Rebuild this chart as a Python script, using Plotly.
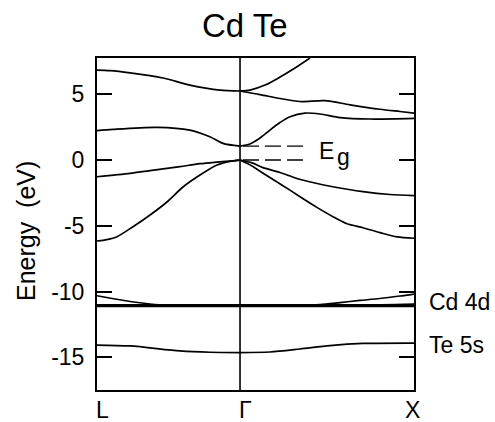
import plotly.graph_objects as go

# High-symmetry points along the k-path (L -> Gamma -> X)
K_L, K_G, K_X = 0.0, 0.822, 1.822
kpoint_labels = ["L", "Γ", "X"]

# ---- L - Gamma segment (k, energy in eV) ----
k_lg_c2 = [0, 0.075, 0.190, 0.379, 0.534, 0.707, 0.822]
e_lg_c2 = [6.84, 6.80, 6.63, 6.24, 5.70, 5.32, 5.25]

k_lg_c1 = [0, 0.092, 0.345, 0.534, 0.649, 0.724, 0.822]
e_lg_c1 = [2.23, 2.33, 2.49, 2.28, 1.77, 1.27, 1.06]

k_lg_hh = [0, 0.190, 0.305, 0.477, 0.592, 0.822]
e_lg_hh = [-1.27, -1.02, -0.80, -0.50, -0.28, 0.0]

k_lg_lh = [0, 0.057, 0.115, 0.207, 0.305, 0.402, 0.494, 0.592, 0.690, 0.764, 0.822]
e_lg_lh = [-6.16, -6.05, -5.83, -5.07, -4.18, -3.19, -2.05, -1.14, -0.38, -0.10, 0.0]

k_lg_d = [0, 0.103, 0.190, 0.305, 0.391, 0.534, 0.822]
e_lg_d = [-10.32, -10.57, -10.76, -10.95, -11.05, -11.08, -11.08]

k_lg_s = [0, 0.190, 0.477, 0.649, 0.822]
e_lg_s = [-14.07, -14.14, -14.52, -14.62, -14.64]

# ---- Gamma - X segment ----
k_gx_c3 = [0.822, 0.879, 0.966, 1.052, 1.138, 1.224]
e_gx_c3 = [5.25, 5.32, 5.70, 6.31, 7.00, 7.76]

k_gx_c2 = [0.822, 0.937, 1.052, 1.167, 1.310, 1.454, 1.626, 1.741, 1.822]
e_gx_c2 = [5.25, 4.98, 4.68, 4.45, 4.52, 4.20, 3.86, 3.69, 3.57]

k_gx_c1 = [0.822, 0.879, 0.937, 0.994, 1.052, 1.109, 1.195, 1.282, 1.397, 1.569, 1.822]
e_gx_c1 = [1.06, 1.22, 1.67, 2.28, 2.85, 3.29, 3.57, 3.50, 3.23, 3.12, 3.17]

k_gx_hh = [0.822, 0.891, 0.954, 1.052, 1.149, 1.253, 1.356, 1.529, 1.684, 1.822]
e_gx_hh = [0.0, -0.22, -0.58, -0.95, -1.40, -1.75, -2.03, -2.40, -2.62, -2.71]

k_gx_lh = [0.822, 0.891, 0.966, 1.069, 1.167, 1.264, 1.356, 1.437, 1.529, 1.626, 1.724, 1.822]
e_gx_lh = [0.0, -0.45, -1.10, -1.95, -2.79, -3.60, -4.31, -4.85, -5.15, -5.52, -5.85, -5.95]

k_gx_d1 = [0.822, 1.167, 1.282, 1.397, 1.511, 1.626, 1.741, 1.822]
e_gx_d1 = [-11.08, -11.06, -10.99, -10.84, -10.68, -10.53, -10.34, -10.19]

k_gx_d2 = [1.397, 1.569, 1.713, 1.822]
e_gx_d2 = [-11.08, -11.04, -10.99, -10.95]

k_gx_s = [0.822, 0.994, 1.167, 1.339, 1.529, 1.822]
e_gx_s = [-14.64, -14.60, -14.37, -14.11, -13.95, -13.92]

# Flat, nearly degenerate Cd 4d manifold
k_d_flat = [K_L, K_X]
e_d_flat = [-11.08, -11.08]

# Band gap at Gamma: conduction-band minimum and valence-band maximum
e_cbm = e_gx_c1[0]
e_vbm = e_gx_hh[0]

y_ticks = [5, 0, -5, -10, -15]
y_ticktext = ["5", "0", "-5", "-10", "-15"]

FONT = "Liberation Sans, Arial, sans-serif"
fig = go.Figure()

bands = [
    (k_lg_c2, e_lg_c2), (k_lg_c1, e_lg_c1), (k_lg_hh, e_lg_hh), (k_lg_lh, e_lg_lh),
    (k_lg_d, e_lg_d), (k_lg_s, e_lg_s),
    (k_gx_c3, e_gx_c3), (k_gx_c2, e_gx_c2), (k_gx_c1, e_gx_c1), (k_gx_hh, e_gx_hh),
    (k_gx_lh, e_gx_lh), (k_gx_d1, e_gx_d1), (k_gx_d2, e_gx_d2), (k_gx_s, e_gx_s),
]
for kk, ee in bands:
    fig.add_trace(go.Scatter(x=kk, y=ee, mode="lines",
                             line=dict(color="black", width=1.7, shape="spline", smoothing=0.8),
                             hoverinfo="skip", showlegend=False))

fig.add_trace(go.Scatter(x=k_d_flat, y=e_d_flat, mode="lines",
                         line=dict(color="black", width=3.2),
                         hoverinfo="skip", showlegend=False))

# Dashed guides marking the gap
for e in (e_cbm, e_vbm):
    fig.add_trace(go.Scatter(x=[K_G + 0.017, K_G + 0.374], y=[e, e], mode="lines",
                             line=dict(color="black", width=1.4, dash="16px,6px"),
                             hoverinfo="skip", showlegend=False))

# Vertical line at Gamma
fig.add_shape(type="line", xref="x", yref="y domain", x0=K_G, x1=K_G, y0=0, y1=1,
              line=dict(color="black", width=1.6))

e_mid = (e_cbm + e_vbm) / 2
annotations = [
    dict(text="Cd Te", x=0.467, y=1.0, xref="paper", yref="paper", yshift=12,
         xanchor="center", yanchor="bottom", showarrow=False,
         font=dict(size=33, family=FONT, color="black")),
    dict(text="Energy  (eV)", x=(26 - 97) / 317, y=(390 - 231) / 332,
         xref="paper", yref="paper",
         textangle=-90, xanchor="center", yanchor="middle", showarrow=False,
         font=dict(size=25, family=FONT, color="black")),
    dict(text="E", x=K_G + 0.44, y=e_mid, xref="x", yref="y", yshift=2,
         xanchor="left", yanchor="middle", showarrow=False,
         font=dict(size=23, family=FONT, color="black")),
    dict(text="g", x=K_G + 0.548, y=e_mid, xref="x", yref="y", yshift=-4,
         xanchor="left", yanchor="middle", showarrow=False,
         font=dict(size=23, family=FONT, color="black")),
    dict(text="Cd 4d", x=1.0, y=e_d_flat[0] + 0.3, xref="paper", yref="y", xshift=13,
         xanchor="left", yanchor="middle", showarrow=False,
         font=dict(size=23, family=FONT, color="black")),
    dict(text="Te 5s", x=1.0, y=e_gx_s[-1] - 0.15, xref="paper", yref="y", xshift=13,
         xanchor="left", yanchor="middle", showarrow=False,
         font=dict(size=23, family=FONT, color="black")),
]

for kv, lab, dx in zip([K_L, K_G, K_X], kpoint_labels, [5, 5, -2]):
    annotations.append(dict(text=lab, x=kv, y=0, xref="x", yref="paper", xshift=dx,
                            yshift=-20, height=22, valign="middle",
                            xanchor="center", yanchor="middle", showarrow=False,
                            font=dict(size=23, family=FONT, color="black")))

fig.update_layout(
    width=495, height=422,
    margin=dict(l=97, r=81, t=58, b=32),
    paper_bgcolor="white", plot_bgcolor="white",
    annotations=annotations,
    xaxis=dict(range=[K_L, K_X], showgrid=False, zeroline=False, showticklabels=False,
               ticks="", showline=True, mirror=True, linecolor="black", linewidth=2),
    yaxis=dict(range=[-17.49, 7.76], showgrid=False, zeroline=False,
               tickvals=y_ticks, ticktext=y_ticktext, ticks="inside", ticklen=15,
               tickwidth=2, tickcolor="black", showline=True, mirror="ticks",
               linecolor="black", linewidth=2, ticklabelstandoff=6,
               tickfont=dict(size=23, family=FONT, color="black")),
)

fig.write_html("out.html")
